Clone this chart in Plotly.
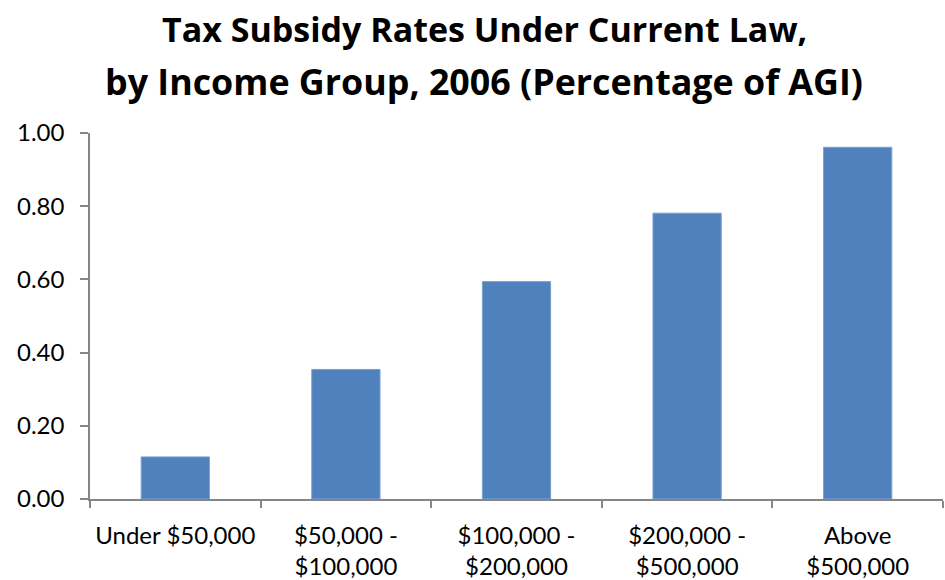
import plotly.graph_objects as go

# Income groups and tax subsidy rates (percentage of AGI), 2006
income_groups = [
    "Under $50,000",
    "$50,000 -<br>$100,000",
    "$100,000 -<br>$200,000",
    "$200,000 -<br>$500,000",
    "Above<br>$500,000",
]
subsidy_rates = [0.115, 0.354, 0.594, 0.781, 0.961]
y_ticks = [0.0, 0.2, 0.4, 0.6, 0.8, 1.0]
title_lines = [
    "Tax Subsidy Rates Under Current Law,",
    "by Income Group, 2006 (Percentage of AGI)",
]

axis_grey = "#868686"
bar_blue = "#4F81BD"

fig = go.Figure(
    go.Bar(
        x=income_groups,
        y=subsidy_rates,
        marker=dict(color=bar_blue, line=dict(color="#7A9FD0", width=1)),
        width=0.4,
    )
)

fig.update_layout(
    width=945,
    height=580,
    paper_bgcolor="white",
    plot_bgcolor="white",
    margin=dict(l=90, r=2, t=133, b=81),
    showlegend=False,
    font=dict(family="Lato, sans-serif", color="black"),
)

# Two-line bold heading
for line, ypos, size in zip(title_lines, [1.283, 1.143], [34, 35.8]):
    fig.add_annotation(
        text=line,
        xref="paper",
        yref="paper",
        x=0.4619,
        y=ypos,
        xanchor="center",
        yanchor="middle",
        showarrow=False,
        font=dict(family="Open Sans, sans-serif", size=size, color="black", weight="bold"),
    )

fig.update_xaxes(
    type="category",
    automargin=False,
    showline=True,
    linecolor=axis_grey,
    linewidth=1.5,
    ticks="outside",
    tickson="boundaries",
    ticklen=7,
    tickcolor=axis_grey,
    tickwidth=1.5,
    showgrid=False,
    tickfont=dict(size=24, color="black"),
    ticklabelstandoff=14,
)

fig.update_yaxes(
    range=[0, 1.0],
    automargin=False,
    tickvals=y_ticks,
    tickformat=".2f",
    showline=True,
    linecolor=axis_grey,
    linewidth=1.5,
    ticks="outside",
    ticklen=8,
    tickcolor=axis_grey,
    tickwidth=1.5,
    showgrid=False,
    zeroline=False,
    tickfont=dict(size=24, color="black"),
    ticklabelstandoff=11,
)

fig.write_html("out.html")
